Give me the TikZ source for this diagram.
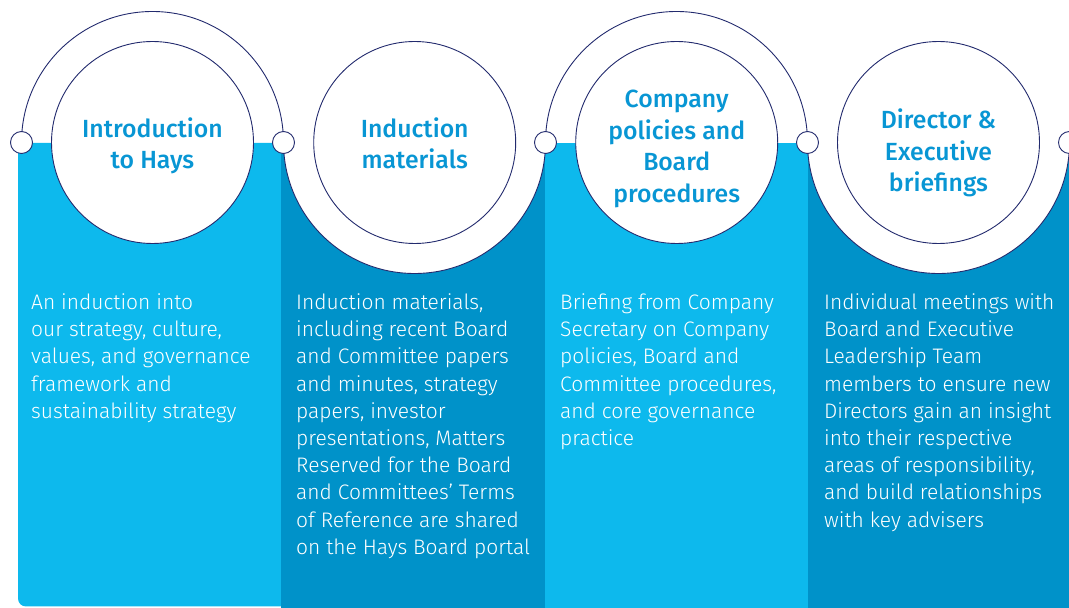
\documentclass[tikz,border=0pt]{standalone}
\usepackage{fontspec}
\setmainfont{Fira Sans}[UprightFont={* Light}, BoldFont={* Medium}]
\usetikzlibrary{positioning}

\definecolor{paleblue}{RGB}{13,185,237}
\definecolor{deepblue}{RGB}{0,146,201}
\definecolor{headblue}{RGB}{8,150,212}
\definecolor{rimnavy}{RGB}{35,43,110}

\begin{document}
\begin{tikzpicture}[x=1pt, y=1pt,
    stagecircle/.style={circle, draw=rimnavy, line width=0.9pt, fill=white, minimum size=202pt, inner sep=0pt},
    heading/.style={anchor=base, inner sep=0pt, align=center, text=headblue, font=\bfseries\fontsize{24.8}{31.7}\selectfont},
    joint/.style={circle, draw=rimnavy, line width=0.9pt, fill=white, minimum size=22pt, inner sep=0pt},
    rim/.style={draw=rimnavy, line width=0.9pt},
    blurb/.style={anchor=north west, inner sep=0pt, align=left, text=white, font=\fontsize{21}{27.2}\selectfont}]
  \useasboundingbox (0,0) rectangle (1069,608);
  % Set the radius of the outer rim around each stage
  \def\rimradius{131}

  % Four coloured columns, pale and deep in turn
  \fill[paleblue] (281,465) -- (18,465) -- (18,9.5) arc[start angle=180, end angle=270, radius=8] -- (281,1.5) -- cycle;
  \fill[deepblue] (281,0) rectangle (545,465);
  \fill[paleblue] (545,0) rectangle (808,465);
  \fill[deepblue] (808,0) rectangle (1069,465);

  % Joint positions along the top edge
  \foreach \i in {0,...,4} {
    \coordinate (p\i) at ({21.5+262*\i},465.5);
  }

  % Upper rims over the pale columns, white bulges into the deep ones
  \draw[rim] (p0) arc[start angle=180, end angle=0, radius=\rimradius];
  \draw[rim] (p2) arc[start angle=180, end angle=0, radius=\rimradius];
  \foreach \i in {1,3} {
    \fill[white] (p\i) arc[start angle=180, end angle=360, radius=\rimradius] -- cycle;
    \draw[rim] (p\i) arc[start angle=180, end angle=360, radius=\rimradius];
  }

  % Stage circles
  \node[stagecircle] (intro) at (152.5,465.5) {};
  \node[stagecircle] (materials) at (414.7,465.5) {};
  \node[stagecircle] (policies) at (676.7,465.5) {};
  \node[stagecircle] (briefings) at (938.5,465.5) {};

  % Headings, last baseline set inside each circle
  \node[heading] (introhead) at ([yshift=-26.5]intro.center) {Introduction\\to Hays};
  \node[heading] (materialshead) at ([yshift=-26.5]materials.center) {Induction\\materials};
  \node[heading] (policieshead) at ([yshift=-60]policies.center) {Company\\policies and\\Board\\procedures};
  \node[heading] (briefingshead) at ([yshift=-49.5]briefings.center) {Director \&\\Executive\\briefings};

  % Small joints where the rims meet
  \foreach \i in {0,...,4} {
    \node[joint] (j\i) at (p\i) {};
  }

  % Descriptions under each stage
  \node[blurb] (introtext) at (31,314.5) {An induction into\\our strategy, culture,\\values, and governance\\framework and\\sustainability strategy};
  \node[blurb] (materialstext) at (296,314.5) {Induction materials,\\including recent Board\\and Committee papers\\and minutes, strategy\\papers, investor\\presentations, Matters\\Reserved for the Board\\and Committees’ Terms\\of Reference are shared\\on the Hays Board portal};
  \node[blurb] (policiestext) at (560,314.5) {Briefing from Company\\Secretary on Company\\policies, Board and\\Committee procedures,\\and core governance\\practice};
  \node[blurb] (briefingstext) at (824,314.5) {Individual meetings with\\Board and Executive\\Leadership Team\\members to ensure new\\Directors gain an insight\\into their respective\\areas of responsibility,\\and build relationships\\with key advisers};
\end{tikzpicture}
\end{document}
